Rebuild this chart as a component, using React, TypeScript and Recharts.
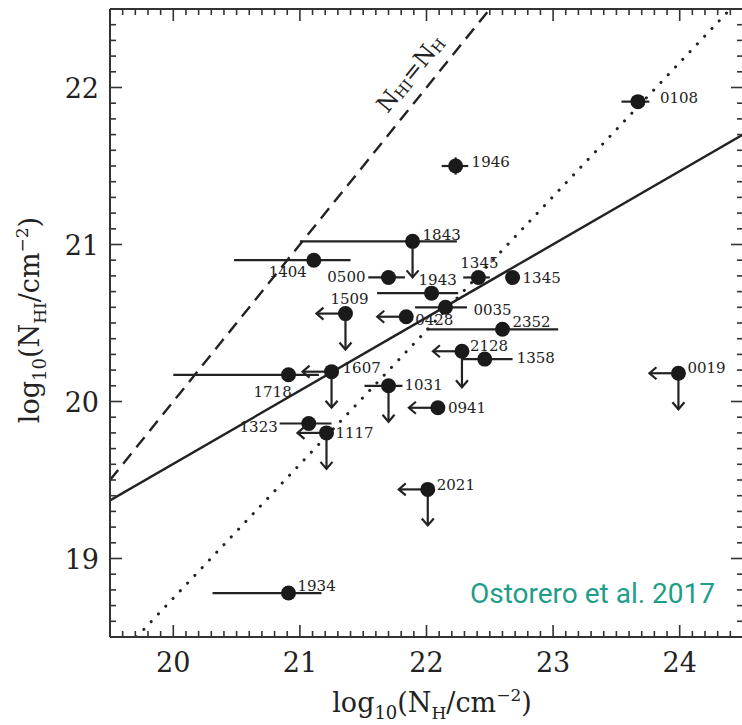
import React from 'react';
import { ScatterChart, Scatter, XAxis, YAxis, ErrorBar, ReferenceLine, ReferenceDot } from 'recharts';

// ---- data ----
const sourceNames = ['0108', '1946', '1843', '1404', '0500', '1345', '1345', '1943', '0035', '1509', '0428', '2352', '2128', '1358', '1607', '1718', '1031', '0941', '1323', '1117', '0019', '2021', '1934'];
const logNH = [23.67, 22.23, 21.89, 21.11, 21.70, 22.41, 22.68, 22.04, 22.15, 21.36, 21.84, 22.60, 22.28, 22.46, 21.25, 20.91, 21.70, 22.09, 21.07, 21.21, 23.99, 22.01, 20.91];
const logNHI = [21.91, 21.50, 21.02, 20.90, 20.79, 20.79, 20.79, 20.69, 20.60, 20.56, 20.54, 20.46, 20.32, 20.27, 20.19, 20.17, 20.10, 19.96, 19.86, 19.80, 20.18, 19.44, 18.78];
const nhRangeLow = [23.54, 22.12, 21.00, 20.48, 21.54, 22.29, null, 21.61, 21.91, null, null, 22.00, null, 22.28, null, 20.00, 21.51, null, 20.84, null, null, null, 20.31];
const nhRangeHigh = [23.76, 22.33, 22.24, 21.40, 21.83, 22.50, null, 22.25, 22.32, null, null, 23.04, null, 22.68, null, 21.15, 21.81, null, 21.25, null, null, null, 21.17];
const nhiError = [0, 0.055, 0, 0, 0, 0, 0, 0, 0, 0, 0, 0, 0, 0, 0, 0, 0, 0, 0, 0, 0, 0, 0];
const nhIsUpperLimit = [false, false, false, false, false, false, false, false, false, true, true, false, true, false, true, false, false, true, false, true, true, true, false];
const nhiIsUpperLimit = [false, false, true, false, false, false, false, false, false, true, false, false, true, false, true, false, true, false, false, true, true, true, false];

const equalityLine = [{ x: 19.5, y: 19.5 }, { x: 22.5, y: 22.5 }];
const dottedFit = [{ x: 19.71, y: 18.5 }, { x: 24.4, y: 22.5 }];
const solidFit = [{ x: 19.5, y: 19.37 }, { x: 24.5, y: 21.7 }];

const xMajorTicks = [20, 21, 22, 23, 24];
const yMajorTicks = [19, 20, 21, 22];
const xDomain = [19.5, 24.5];
const yDomain = [18.5, 22.5];

// ---- label placement (style) ----
const labelPlacement: { dx: number; dy: number; anchor: 'start' | 'middle' | 'end' }[] = [
  { dx: 22, dy: 1, anchor: 'start' },
  { dx: 16, dy: 1, anchor: 'start' },
  { dx: 10, dy: -1, anchor: 'start' },
  { dx: -7, dy: 17, anchor: 'end' },
  { dx: -23, dy: 5, anchor: 'end' },
  { dx: 1, dy: -9, anchor: 'middle' },
  { dx: 10, dy: 6, anchor: 'start' },
  { dx: -13, dy: -8, anchor: 'start' },
  { dx: 28, dy: 8, anchor: 'start' },
  { dx: -15, dy: -10, anchor: 'start' },
  { dx: 9, dy: 8, anchor: 'start' },
  { dx: 10, dy: -2, anchor: 'start' },
  { dx: 8, dy: 0, anchor: 'start' },
  { dx: 32, dy: 4, anchor: 'start' },
  { dx: 11, dy: 1, anchor: 'start' },
  { dx: -35, dy: 22, anchor: 'start' },
  { dx: 16, dy: 4, anchor: 'start' },
  { dx: 10, dy: 5, anchor: 'start' },
  { dx: -31, dy: 9, anchor: 'end' },
  { dx: 9, dy: 5, anchor: 'start' },
  { dx: 9, dy: 0, anchor: 'start' },
  { dx: 9, dy: 1, anchor: 'start' },
  { dx: 9, dy: -2, anchor: 'start' },
];

const data = sourceNames.map((name, i) => ({
  idx: i,
  name,
  nh: logNH[i],
  nhi: logNHI[i],
  xerr: nhRangeLow[i] == null ? [0, 0] : [logNH[i] - (nhRangeLow[i] as number), (nhRangeHigh[i] as number) - logNH[i]],
  yerr: [nhiError[i], nhiError[i]],
}));

const isInt = (v: number) => Math.abs(v - Math.round(v)) < 1e-6;
const xTicks = Array.from({ length: 51 }, (_, i) => Math.round((xDomain[0] + i * 0.1) * 10) / 10);
const yTicks = Array.from({ length: 41 }, (_, i) => Math.round((yDomain[0] + i * 0.1) * 10) / 10);

// frame tick marks, placed on the four edges through the chart scales
const bottomTickMarks = xTicks.map((v) => ({ nh: v, nhi: yDomain[0], major: isInt(v), side: 'b' }));
const topTickMarks = xTicks.map((v) => ({ nh: v, nhi: yDomain[1], major: isInt(v), side: 't' }));
const leftTickMarks = yTicks.map((v) => ({ nh: xDomain[0], nhi: v, major: isInt(v), side: 'l' }));
const rightTickMarks = yTicks.map((v) => ({ nh: xDomain[1], nhi: v, major: isInt(v), side: 'r' }));

const SERIF = 'DejaVu Serif';
const INK = '#222';
const AXIS = '#333';

const TickMark = (p: any) => {
  const { cx, cy, payload } = p;
  const len = payload.major ? 12 : 6;
  let x2 = cx;
  let y2 = cy;
  if (payload.side === 'b') y2 = cy - len;
  if (payload.side === 't') y2 = cy + len;
  if (payload.side === 'l') x2 = cx + len;
  if (payload.side === 'r') x2 = cx - len;
  return <line x1={cx} y1={cy} x2={x2} y2={y2} stroke={AXIS} strokeWidth={1.6} />;
};

const BottomLabel = (p: any) => (
  <text x={p.x} y={p.y + 35} textAnchor="middle" fontFamily={SERIF} fontSize={27} fill={INK}>
    {Math.round(p.payload.value)}
  </text>
);
const LeftLabel = (p: any) => (
  <text x={p.x - 11} y={p.y + 10} textAnchor="end" fontFamily={SERIF} fontSize={27} fill={INK}>
    {Math.round(p.payload.value)}
  </text>
);

const PointShape = (p: any) => {
  const { cx, cy, payload } = p;
  const i = payload.idx;
  const lp = labelPlacement[i];
  const L = 29;
  const D = 36;
  return (
    <g>
      {nhIsUpperLimit[i] && (
        <g stroke={INK} strokeWidth={2.2} fill="none">
          <line x1={cx} y1={cy} x2={cx - L} y2={cy} />
          <polyline points={`${cx - L + 7},${cy - 6} ${cx - L},${cy} ${cx - L + 7},${cy + 6}`} />
        </g>
      )}
      {nhiIsUpperLimit[i] && (
        <g stroke={INK} strokeWidth={2.2} fill="none">
          <line x1={cx} y1={cy} x2={cx} y2={cy + D} />
          <polyline points={`${cx - 6},${cy + D - 7} ${cx},${cy + D} ${cx + 6},${cy + D - 7}`} />
        </g>
      )}
      <circle cx={cx} cy={cy} r={7.5} fill="#1a1a1a" />
      <text x={cx + lp.dx} y={cy + lp.dy} textAnchor={lp.anchor} fontFamily={SERIF} fontSize={15} fill={INK}>
        {payload.name}
      </text>
    </g>
  );
};

const XTitle = () => (
  <g>
    <text x={432} y={712} textAnchor="middle" fontFamily={SERIF} fontSize={27} fill={INK}>
      log<tspan fontSize={18} dy={7}>10</tspan>
      <tspan dy={-7}>(N</tspan>
      <tspan fontSize={17} dy={7}>H</tspan>
      <tspan dy={-7}>/cm</tspan>
      <tspan fontSize={17} dy={-11}>−2</tspan>
      <tspan dy={11}>)</tspan>
    </text>
    <text x={715} y={603} textAnchor="end" fontFamily="Roboto" fontSize={28} fill="#1f9d88">
      Ostorero et al. 2017
    </text>
  </g>
);

const YTitle = () => (
  <text x={0} y={0} transform="translate(39,320) rotate(-90)" textAnchor="middle" fontFamily={SERIF} fontSize={27} fill={INK}>
    log<tspan fontSize={18} dy={7}>10</tspan>
    <tspan dy={-7}>(N</tspan>
    <tspan fontSize={17} dy={7}>HI</tspan>
    <tspan dy={-7}>/cm</tspan>
    <tspan fontSize={17} dy={-11}>−2</tspan>
    <tspan dy={11}>)</tspan>
  </text>
);

const EqualityLabel = (p: any) => (
  <text
    x={0}
    y={0}
    transform={`translate(${p.cx},${p.cy}) rotate(-51)`}
    textAnchor="middle"
    dominantBaseline="central"
    fontFamily={SERIF}
    fontSize={23}
    fill={INK}
  >
    N<tspan fontSize={15} dy={5}>HI</tspan>
    <tspan dy={-5}>=N</tspan>
    <tspan fontSize={15} dy={5}>H</tspan>
  </text>
);

export default function App() {
  return (
    <div style={{ position: 'absolute', left: 0, top: 0, width: 742, height: 725, overflow: 'hidden', background: '#fff' }}>
      <ScatterChart width={744} height={725} margin={{ top: 0, right: 0, bottom: 0, left: 0 }}>
        <XAxis
          xAxisId={0}
          type="number"
          dataKey="nh"
          orientation="bottom"
          domain={xDomain}
          allowDataOverflow
          ticks={xMajorTicks}
          interval={0}
          height={88}
          tickSize={0}
          tickMargin={0}
          tickLine={false}
          tick={BottomLabel}
          axisLine={{ stroke: AXIS, strokeWidth: 2 }}
          label={XTitle}
        />
        <XAxis
          xAxisId="top"
          type="number"
          orientation="top"
          domain={xDomain}
          allowDataOverflow
          ticks={xMajorTicks}
          height={9}
          tickLine={false}
          tick={false}
          axisLine={{ stroke: AXIS, strokeWidth: 2 }}
        />
        <YAxis
          yAxisId={0}
          type="number"
          dataKey="nhi"
          orientation="left"
          domain={yDomain}
          allowDataOverflow
          ticks={yMajorTicks}
          interval={0}
          width={110}
          tickSize={0}
          tickMargin={0}
          tickLine={false}
          tick={LeftLabel}
          axisLine={{ stroke: AXIS, strokeWidth: 2 }}
          label={YTitle}
        />
        <YAxis
          yAxisId="right"
          type="number"
          orientation="right"
          domain={yDomain}
          allowDataOverflow
          ticks={yMajorTicks}
          width={1}
          tickLine={false}
          tick={false}
          axisLine={{ stroke: AXIS, strokeWidth: 2 }}
        />
        <Scatter data={bottomTickMarks} isAnimationActive={false} shape={TickMark} />
        <Scatter data={topTickMarks} isAnimationActive={false} shape={TickMark} />
        <Scatter data={leftTickMarks} isAnimationActive={false} shape={TickMark} />
        <Scatter data={rightTickMarks} isAnimationActive={false} shape={TickMark} />
        <ReferenceLine segment={equalityLine} stroke={INK} strokeWidth={2.4} strokeDasharray="13 8" ifOverflow="hidden" />
        <ReferenceLine segment={dottedFit} stroke={INK} strokeWidth={3} strokeDasharray="0.1 10.5" strokeLinecap="round" ifOverflow="hidden" />
        <ReferenceLine segment={solidFit} stroke={INK} strokeWidth={2.4} ifOverflow="hidden" />
        <ReferenceDot x={21.87} y={22.09} r={0} shape={EqualityLabel} />
        <Scatter data={data} isAnimationActive={false} shape={PointShape}>
          <ErrorBar dataKey="xerr" direction="x" width={0} stroke={INK} strokeWidth={2.2} />
          <ErrorBar dataKey="yerr" direction="y" width={0} stroke={INK} strokeWidth={2.2} />
        </Scatter>
      </ScatterChart>
    </div>
  );
}
